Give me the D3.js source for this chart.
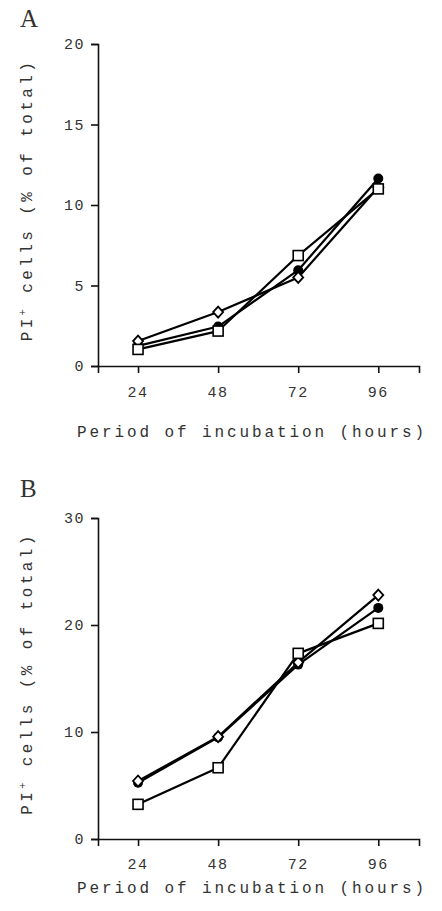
<!DOCTYPE html>
<html>
<head>
<meta charset="utf-8">
<script src="https://cdn.jsdelivr.net/npm/d3@7"></script>
<style>
  html, body { margin: 0; padding: 0; background: #fff; }
  svg { display: block; }
  text { font-family: "Liberation Mono", "DejaVu Sans Mono", monospace; fill: #333; }
</style>
</head>
<body>
<svg id="chart" width="442" height="911"></svg>
<script>
// ---- data ----
const hours = [24, 48, 72, 96];
const panelLabels = ["A", "B"];
const yTicksA = [0, 5, 10, 15, 20];
const yTicksB = [0, 10, 20, 30];
// Panel A
const circleA  = [1.25, 2.45, 5.95, 11.65];
const diamondA = [1.55, 3.35, 5.5, 11.1];
const squareA  = [1.03, 2.17, 6.86, 11.0];
// Panel B
const circleB  = [5.26, 9.5, 16.3, 21.6];
const diamondB = [5.42, 9.56, 16.5, 22.8];
const squareB  = [3.24, 6.66, 17.35, 20.15];

const yTitle = "PI";
const xTitle = "Period of incubation (hours)";

const svg = d3.select("#chart");

const panels = [
  { label: panelLabels[0], top: 44, bottom: 366, yMax: 20, ticks: yTicksA,
    series: [{shape: "circle", values: circleA}, {shape: "diamond", values: diamondA}, {shape: "square", values: squareA}],
    labelY: 27, tickLabelY: 397, titleY: 437 },
  { label: panelLabels[1], top: 518, bottom: 839, yMax: 30, ticks: yTicksB,
    series: [{shape: "circle", values: circleB}, {shape: "diamond", values: diamondB}, {shape: "square", values: squareB}],
    labelY: 497, tickLabelY: 869, titleY: 893 }
];

const x = d3.scaleLinear().domain([12, 108.2]).range([98, 419]);

panels.forEach(p => {
  const g = svg.append("g");
  const y = d3.scaleLinear().domain([0, p.yMax]).range([p.bottom, p.top]);

  // panel letter
  g.append("text").attr("x", 20).attr("y", p.labelY)
    .style("font-family", "'Liberation Serif', serif")
    .style("font-size", "25px").text(p.label);

  // y axis
  const ya = g.append("g").attr("transform", `translate(${x(12)},0)`)
    .call(d3.axisLeft(y).tickValues(p.ticks).tickSizeOuter(0).tickSize(7).tickPadding(6));
  ya.select(".domain").attr("stroke", "#111").attr("stroke-width", 1.6);
  ya.selectAll(".tick line").attr("stroke", "#111").attr("stroke-width", 1.6);
  ya.selectAll(".tick text").style("font-size", "15px").style("letter-spacing", "1.5px")
    .attr("fill", "#444").style("font-family", "'Liberation Mono', monospace");

  // x axis
  const xa = g.append("g").attr("transform", `translate(0,${p.bottom})`)
    .call(d3.axisBottom(x).tickValues(hours).tickSizeOuter(0).tickSize(7).tickFormat(d => d));
  xa.select(".domain").attr("stroke", "#111").attr("stroke-width", 1.6);
  xa.selectAll(".tick line").attr("stroke", "#111").attr("stroke-width", 1.6);
  xa.selectAll(".tick text").remove();
  g.selectAll(".xtl").data(hours).enter().append("text")
    .attr("x", d => x(d)).attr("y", p.tickLabelY).attr("text-anchor", "middle")
    .style("font-size", "15px").style("letter-spacing", "1.5px").attr("fill", "#444")
    .text(d => d);

  // x title
  g.append("text").attr("x", 252).attr("y", p.titleY).attr("text-anchor", "middle")
    .style("font-size", "16px").style("letter-spacing", "2.9px").attr("fill", "#444")
    .text(xTitle);

  // y title
  const cy = (p.top + p.bottom) / 2 - 5;
  const yt = g.append("text").attr("transform", `translate(32,${cy}) rotate(-90)`)
    .attr("text-anchor", "middle").style("font-size", "16px").style("letter-spacing", "3.4px")
    .attr("fill", "#444");
  yt.append("tspan").text(yTitle);
  yt.append("tspan").attr("dy", "-6").style("font-size", "10px").text("+");
  yt.append("tspan").attr("dy", "6").text(" cells (% of total)");

  const line = d3.line().x((d, i) => x(hours[i])).y(d => y(d));

  // lines
  p.series.forEach(s => {
    g.append("path").datum(s.values).attr("d", line)
      .attr("fill", "none").attr("stroke", "#000").attr("stroke-width", 2.2)
      .attr("stroke-linejoin", "round");
  });
  // markers
  p.series.forEach(s => {
    const m = g.selectAll(null).data(s.values).enter();
    if (s.shape === "circle") {
      m.append("circle").attr("cx", (d, i) => x(hours[i])).attr("cy", d => y(d)).attr("r", 5)
        .attr("fill", "#000");
    } else if (s.shape === "square") {
      m.append("rect").attr("x", (d, i) => x(hours[i]) - 5).attr("y", d => y(d) - 5)
        .attr("width", 10).attr("height", 10)
        .attr("fill", "#fff").attr("stroke", "#000").attr("stroke-width", 1.6);
    } else {
      m.append("path").attr("transform", (d, i) => `translate(${x(hours[i])},${y(d)})`)
        .attr("d", "M0,-5.5L5,0L0,5.5L-5,0Z")
        .attr("fill", "#fff").attr("stroke", "#000").attr("stroke-width", 1.8);
    }
  });
});
</script>
</body>
</html>
